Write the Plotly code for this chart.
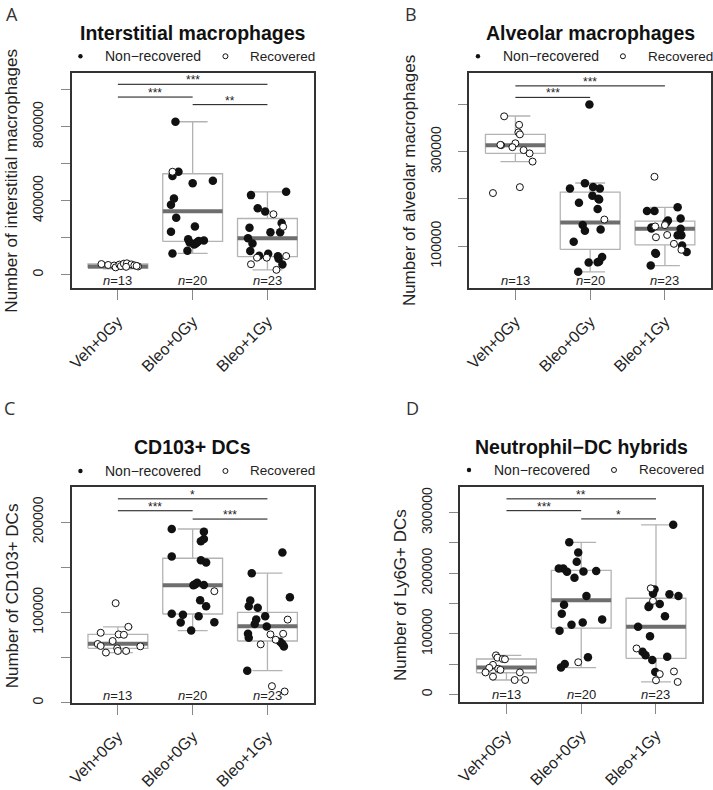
import plotly.graph_objects as go

W, H = 713, 790
categories = ["Veh+0Gy", "Bleo+0Gy", "Bleo+1Gy"]
n_counts = [13, 20, 23]
legend_labels = ["Non\u2212recovered", "Recovered"]

# ---------------- Panel A: Interstitial macrophages ----------------
A_title = "Interstitial macrophages"
A_ylabel = "Number of interstitial macrophages"
A_val = [
    [58000, 53000, 50000, 40000, 55000, 47000, 60000, 62000, 56000, 43000, 51000, 45000, 48000],
    [826700, 556500, 556500, 533400, 494300, 508500, 412500, 378700, 307600, 232900, 261400, 192000,
     174200, 168900, 176000, 184900, 115600, 129800, 163000, 182000],
    [430300, 448000, 359200, 341400, 327100, 254200, 279100, 259600, 229300, 229300, 197400, 168900,
     128000, 103100, 113800, 92500, 92500, 101300, 87100, 55100, 56900, 26700, 100000],
]
A_jit = [
    [-0.22, -0.13, -0.05, -0.03, 0.02, 0.04, 0.08, 0.12, 0.18, 0.11, 0.22, 0.27, 0.25],
    [-0.23, -0.27, -0.19, -0.27, 0.0, 0.27, -0.25, -0.29, -0.22, -0.29, 0.03, -0.06, -0.04, 0.04,
     0.06, 0.15, -0.27, -0.07, 0.02, 0.08],
    [-0.22, 0.25, -0.13, -0.03, 0.08, -0.24, 0.19, 0.21, 0.04, 0.17, -0.26, -0.20, -0.23, -0.11,
     0.01, -0.14, -0.01, 0.25, 0.15, 0.20, -0.22, 0.12, 0.14],
]
A_rec = [
    [1] * 13,
    [0, 1] + [0] * 18,
    [0, 0, 0, 0, 1, 0, 0, 1, 0, 0, 0, 0, 0, 0, 0, 1, 1, 1, 0, 0, 1, 1, 0],
]
# [lower whisker, q1, median, q3, upper whisker]
A_stats = [[32000, 36000, 45000, 58700, 62000],
           [115600, 180000, 343000, 545600, 826700],
           [26700, 97800, 197400, 304000, 448000]]
A_sig = [(1, 3, 1029000, "***"), (1, 2, 960000, "***"), (2, 3, 919000, "**")]
A_yrange = [-73000, 1089600]
A_ticks = [0, 200000, 400000, 600000, 800000, 1000000]
A_ticklabels = ["0", "", "400000", "", "800000", ""]
A_ny = -30400

# ---------------- Panel B: Alveolar macrophages ----------------
B_title = "Alveolar macrophages"
B_ylabel = "Number of alveolar macrophages"
B_val = [
    [375000, 357000, 341000, 336800, 318000, 313900, 309700, 303500, 296500, 279200, 212500, 225000, 314600],
    [233100, 225400, 222000, 222000, 206600, 200400, 192000, 178800, 156400, 144600, 132800, 135500,
     109100, 77000, 65200, 65900, 67300, 45600, 400000, 199000],
    [247000, 174600, 174600, 182200, 158500, 154400, 150200, 144600, 141800, 139700, 137600, 136900,
     123000, 123000, 123700, 118800, 104900, 101400, 92300, 87500, 84000, 85400, 58900],
]
B_jit = [
    [-0.15, 0.05, 0.04, 0.06, 0.0, -0.19, -0.04, 0.11, 0.19, 0.23, -0.30, 0.06, -0.20],
    [-0.07, 0.04, 0.13, -0.27, 0.03, 0.11, -0.15, 0.10, 0.19, -0.10, -0.07, 0.14, -0.22, 0.16,
     -0.02, 0.10, 0.12, -0.16, -0.01, 0.12],
    [-0.14, -0.24, -0.14, 0.17, 0.21, 0.04, 0.02, 0.0, -0.13, -0.18, -0.18, 0.21, 0.17, 0.22,
     0.03, -0.12, 0.12, 0.23, 0.22, 0.29, -0.12, -0.13, -0.19],
]
B_rec = [
    [1] * 13,
    [0] * 8 + [1] + [0] * 11,
    [1, 0, 0, 0, 0, 0, 0, 1, 1, 0, 0, 0, 0, 0, 1, 1, 1, 0, 1, 0, 0, 0, 0],
]
B_stats = [[279200, 296500, 313900, 336800, 375700],
           [45600, 93000, 150200, 214300, 233800],
           [58900, 102800, 136900, 153000, 182200]]
B_sig = [(1, 3, 439500, "***"), (1, 2, 415200, "***")]
B_yrange = [10700, 466700]
B_ticks = [100000, 200000, 300000, 400000]
B_ticklabels = ["100000", "", "300000", ""]
B_ny = 26800

# ---------------- Panel C: CD103+ DCs ----------------
C_title = "CD103+ DCs"
C_ylabel = "Number of CD103+ DCs"
C_val = [
    [110200, 84000, 77400, 75600, 75200, 68300, 65000, 62800, 62400, 60200, 57300, 57300, 55500],
    [192300, 189300, 181300, 178700, 161800, 157700, 155200, 132900, 131000, 129900, 130300, 123400,
     113500, 106900, 98600, 97500, 95600, 88700, 89100, 79900],
    [166200, 143400, 116800, 113200, 106900, 105100, 95600, 92000, 92000, 87200, 84300, 76300,
     75600, 76300, 71900, 69700, 67500, 65000, 64600, 62100, 35400, 18300, 12400],
]
C_jit = [
    [-0.03, 0.14, -0.23, 0.01, 0.08, -0.07, -0.27, -0.23, 0.30, -0.01, 0.0, 0.11, -0.16],
    [-0.28, 0.15, 0.15, 0.11, -0.28, 0.11, 0.18, 0.06, 0.03, 0.01, 0.15, 0.29, 0.10, 0.18,
     -0.28, -0.13, 0.08, -0.16, 0.29, -0.02],
    [0.20, -0.21, 0.30, -0.23, -0.25, -0.13, -0.03, -0.15, 0.27, -0.17, -0.01, -0.26, 0.04, 0.21,
     -0.25, 0.11, 0.17, 0.20, -0.09, 0.22, -0.27, 0.06, 0.23],
]
C_rec = [
    [1] * 13,
    [0] * 11 + [1] + [0] * 8,
    [0, 0, 0, 0, 0, 0, 0, 0, 1, 0, 0, 0, 1, 1, 0, 1, 0, 0, 1, 0, 0, 1, 1],
]
C_stats = [[55500, 60200, 65300, 75600, 84000],
           [79900, 98200, 129900, 159900, 192300],
           [35400, 68300, 84700, 100000, 143400]]
C_sig = [(1, 3, 225700, "*"), (1, 2, 212500, "***"), (2, 3, 203300, "***")]
C_yrange = [-650, 238300]
C_ticks = [0, 50000, 100000, 150000, 200000]
C_ticklabels = ["0", "", "100000", "", "200000"]
C_ny = 8400

# ---------------- Panel D: Neutrophil-DC hybrids ----------------
D_title = "Neutrophil\u2212DC hybrids"
D_ylabel = "Number of Ly6G+ DCs"
D_val = [
    [64500, 60700, 58500, 58000, 48800, 43900, 42300, 36300, 36300, 29300, 23800, 23800, 40600],
    [251100, 234300, 219100, 207700, 207700, 202300, 202800, 203900, 192500, 162600, 148000, 133300,
     123600, 118700, 114900, 105100, 61200, 53100, 50400, 44400],
    [279900, 175100, 173400, 166400, 154500, 165300, 162600, 146300, 144200, 149100, 129000, 111700,
     95900, 75900, 70500, 64500, 62300, 56900, 36900, 33600, 37900, 23300, 20600],
]
D_jit = [
    [-0.14, -0.12, -0.05, -0.02, -0.18, -0.23, -0.11, -0.28, 0.18, -0.18, 0.11, 0.25, -0.08],
    [-0.16, -0.04, -0.06, -0.30, -0.24, -0.19, 0.03, 0.20, -0.09, 0.07, -0.23, -0.26, 0.28, 0.02,
     -0.13, -0.29, 0.09, -0.04, -0.22, -0.27],
    [0.23, -0.07, -0.02, -0.04, -0.04, 0.18, 0.30, -0.09, -0.10, 0.05, 0.12, -0.24, -0.08, -0.26,
     -0.18, -0.14, 0.15, -0.05, -0.01, 0.05, 0.24, 0.0, 0.29],
]
D_rec = [
    [1] * 13,
    [0] * 17 + [1] + [0] * 2,
    [0, 1, 0, 0, 1, 0, 0, 0, 0, 0, 0, 0, 0, 1, 0, 0, 0, 0, 0, 1, 1, 1, 1],
]
D_stats = [[23800, 35800, 44400, 58500, 64500],
           [44400, 109500, 155600, 204900, 251100],
           [20600, 59600, 111700, 158800, 279900]]
D_sig = [(1, 3, 322800, "**"), (1, 2, 303300, "***"), (2, 3, 289700, "*")]
D_yrange = [-12500, 342300]
D_ticks = [0, 50000, 100000, 150000, 200000, 250000, 300000]
D_ticklabels = ["0", "", "100000", "", "200000", "", "300000"]
D_ny = 0

# ---------------- layout geometry (pixels) ----------------
FONT = "Liberation Sans, Arial, sans-serif"
panels = [
    dict(letter="A", title=A_title, ylabel=A_ylabel, val=A_val, jit=A_jit, rec=A_rec, stats=A_stats,
         sig=A_sig, yr=A_yrange, ticks=A_ticks, tlab=A_ticklabels, ny=A_ny,
         px=(68, 312), py=(74, 292), letter_xy=(8, 0), title_y=33, leg_y=57),
    dict(letter="B", title=B_title, ylabel=B_ylabel, val=B_val, jit=B_jit, rec=B_rec, stats=B_stats,
         sig=B_sig, yr=B_yrange, ticks=B_ticks, tlab=B_ticklabels, ny=B_ny,
         px=(468.3, 712.3), py=(74, 292), letter_xy=(410, 0), title_y=33, leg_y=57),
    dict(letter="C", title=C_title, ylabel=C_ylabel, val=C_val, jit=C_jit, rec=C_rec, stats=C_stats,
         sig=C_sig, yr=C_yrange, ticks=C_ticks, tlab=C_ticklabels, ny=C_ny,
         px=(68, 312), py=(493.7, 712.3), letter_xy=(6, 399), title_y=453, leg_y=477),
    dict(letter="D", title=D_title, ylabel=D_ylabel, val=D_val, jit=D_jit, rec=D_rec, stats=D_stats,
         sig=D_sig, yr=D_yrange, ticks=D_ticks, tlab=D_ticklabels, ny=D_ny,
         px=(459.3, 703.3), py=(493.3, 711), letter_xy=(411, 399), title_y=453, leg_y=476),
]

def fx(p):
    return p / W

def fy(p):
    return 1 - p / H

fig = go.Figure()
annotations = []
shapes = []
layout_axes = {}

BOX_COL = "#b3b3b3"
MED_COL = "#6e6e6e"

for k, P in enumerate(panels):
    sfx = "" if k == 0 else str(k + 1)
    xa, ya = "x" + sfx, "y" + sfx
    # boxes
    bx, by, wx, wy, mx, my = [], [], [], [], [], []
    for i, (lo, q1, med, q3, hi) in enumerate(P["stats"]):
        c = i + 1
        bx += [c - 0.4, c + 0.4, c + 0.4, c - 0.4, c - 0.4, None]
        by += [q1, q1, q3, q3, q1, None]
        wx += [c, c, None, c, c, None, c - 0.2, c + 0.2, None, c - 0.2, c + 0.2, None]
        wy += [q3, hi, None, q1, lo, None, hi, hi, None, lo, lo, None]
        mx += [c - 0.4, c + 0.4, None]
        my += [med, med, None]
    fig.add_trace(go.Scatter(x=wx, y=wy, mode="lines", line=dict(color=BOX_COL, width=1.3),
                             xaxis=xa, yaxis=ya, showlegend=False, hoverinfo="skip"))
    fig.add_trace(go.Scatter(x=bx, y=by, mode="lines", fill="toself", fillcolor="white",
                             line=dict(color=BOX_COL, width=1.3),
                             xaxis=xa, yaxis=ya, showlegend=False, hoverinfo="skip"))
    fig.add_trace(go.Scatter(x=mx, y=my, mode="lines", line=dict(color=MED_COL, width=4),
                             xaxis=xa, yaxis=ya, showlegend=False, hoverinfo="skip"))
    # points
    for i in range(3):
        c = i + 1
        fxs = [c + j for j, r in zip(P["jit"][i], P["rec"][i]) if r == 0]
        fys = [v for v, r in zip(P["val"][i], P["rec"][i]) if r == 0]
        oxs = [c + j for j, r in zip(P["jit"][i], P["rec"][i]) if r == 1]
        oys = [v for v, r in zip(P["val"][i], P["rec"][i]) if r == 1]
        fig.add_trace(go.Scatter(x=fxs, y=fys, mode="markers",
                                 marker=dict(color="#111111", size=8.5, line=dict(width=0)),
                                 xaxis=xa, yaxis=ya, showlegend=False))
        fig.add_trace(go.Scatter(x=oxs, y=oys, mode="markers",
                                 marker=dict(color="white", size=7, line=dict(color="#111111", width=1)),
                                 xaxis=xa, yaxis=ya, showlegend=False))
    # significance bars
    for (a, b, yv, s) in P["sig"]:
        fig.add_trace(go.Scatter(x=[a, b], y=[yv, yv], mode="lines", line=dict(color="#111111", width=1),
                                 xaxis=xa, yaxis=ya, showlegend=False, hoverinfo="skip"))
        annotations.append(dict(x=(a + b) / 2, y=yv, xref=xa, yref=ya, text=s, showarrow=False,
                                yanchor="bottom", yshift=-5, font=dict(family=FONT, size=12, color="#222")))
    # n labels
    for i, n in enumerate(n_counts):
        annotations.append(dict(x=i + 1, y=P["ny"], xref=xa, yref=ya, text=f"<i>n</i>={n}",
                                showarrow=False, font=dict(family=FONT, size=13, color="#222")))
    x0, x1 = P["px"]
    y0, y1 = P["py"]
    layout_axes["xaxis" + sfx] = dict(
        domain=[fx(x0), fx(x1)], anchor=ya, range=[0.38, 3.62], tickvals=[1, 2, 3], ticktext=categories,
        tickangle=-45, ticks="outside", ticklen=10, tickcolor="#888", tickwidth=1,
        showline=True, mirror=True, linecolor="#333", linewidth=1.5, showgrid=False, zeroline=False,
        tickfont=dict(family=FONT, size=16, color="#222"), ticklabelstandoff=6)
    layout_axes["yaxis" + sfx] = dict(
        domain=[fy(y1), fy(y0)], anchor=xa, range=P["yr"], tickvals=P["ticks"], ticktext=P["tlab"],
        tickangle=-90, ticks="outside", ticklen=9, tickcolor="#888", tickwidth=1,
        showline=True, mirror=True, linecolor="#333", linewidth=1.5, showgrid=False, zeroline=False,
        tickfont=dict(family=FONT, size=14, color="#222"), ticklabelstandoff=12)
    cx = (x0 + x1) / 2
    # title
    annotations.append(dict(x=fx(cx), y=fy(P["title_y"]), xref="paper", yref="paper", text="<b>" + P["title"] + "</b>",
                            showarrow=False, xanchor="center", yanchor="middle",
                            font=dict(family=FONT, size=19.5, color="#111")))
    # y label
    annotations.append(dict(x=fx(x0 - 60), y=fy((y0 + y1) / 2), xref="paper", yref="paper", text=P["ylabel"],
                            textangle=-90, showarrow=False, xanchor="center", yanchor="middle",
                            font=dict(family=FONT, size=17, color="#222")))
    # panel letter
    lx, ly = P["letter_xy"]
    annotations.append(dict(x=fx(lx), y=fy(ly), xref="paper", yref="paper", text=P["letter"],
                            showarrow=False, xanchor="center", yanchor="top",
                            font=dict(family="Open Sans, " + FONT, size=18, color="#333")))
    # legend
    ly = P["leg_y"]
    shapes.append(dict(type="circle", xref="paper", yref="paper", xsizemode="pixel", ysizemode="pixel",
                       xanchor=fx(x0 + 9), yanchor=fy(ly), x0=-2.2, x1=2.2, y0=-2.2, y1=2.2,
                       fillcolor="#111", line=dict(width=0)))
    shapes.append(dict(type="circle", xref="paper", yref="paper", xsizemode="pixel", ysizemode="pixel",
                       xanchor=fx(x0 + 155), yanchor=fy(ly), x0=-2.5, x1=2.5, y0=-2.5, y1=2.5,
                       fillcolor="white", line=dict(width=1, color="#111")))
    annotations.append(dict(x=fx(x0 + 32), y=fy(ly), xref="paper", yref="paper", text=legend_labels[0],
                            showarrow=False, xanchor="left", yanchor="middle",
                            font=dict(family=FONT, size=14, color="#222")))
    annotations.append(dict(x=fx(x0 + 178), y=fy(ly), xref="paper", yref="paper", text=legend_labels[1],
                            showarrow=False, xanchor="left", yanchor="middle",
                            font=dict(family=FONT, size=13.5, color="#222")))

fig.update_layout(width=W, height=H, margin=dict(l=0, r=0, t=0, b=0), plot_bgcolor="white",
                  paper_bgcolor="white", showlegend=False, annotations=annotations, shapes=shapes,
                  **layout_axes)
fig.write_html("out.html", config={"displayModeBar": False},
               post_script="document.body.style.margin='0px';document.body.style.overflow='hidden';")
